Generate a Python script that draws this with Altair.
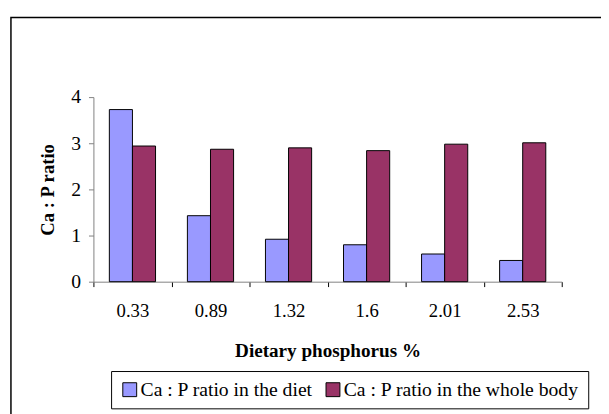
import altair as alt
import pandas as pd

categories = ["0.33", "0.89", "1.32", "1.6", "2.01", "2.53"]
diet = [3.73, 1.43, 0.92, 0.80, 0.60, 0.46]
whole_body = [2.94, 2.87, 2.90, 2.84, 2.98, 3.01]
series_names = ["Ca : P ratio in the diet", "Ca : P ratio in the whole body"]
colors = ["#9999FF", "#993366"]

rows = []
for c, d, w in zip(categories, diet, whole_body):
    rows.append({"dose": c, "series": series_names[0], "value": d})
    rows.append({"dose": c, "series": series_names[1], "value": w})
df = pd.DataFrame(rows)

FONT = "Liberation Serif"
FS = 19

bars = alt.Chart(df).mark_bar(stroke="black", strokeWidth=1).encode(
    x=alt.X("dose:N", sort=categories,
            scale=alt.Scale(paddingInner=0, paddingOuter=0),
            axis=alt.Axis(title="Dietary phosphorus %", labelAngle=0, tickBand="extent",
                          domainColor="#808080", tickColor="black", tickSize=5,
                          labelPadding=15, titlePadding=22, titleFontSize=19.5)),
    xOffset=alt.XOffset("series:N", sort=series_names,
                        scale=alt.Scale(paddingInner=0, paddingOuter=0.69)),
    y=alt.Y("value:Q", scale=alt.Scale(domain=[0, 4], nice=False),
            axis=alt.Axis(title="Ca : P ratio", values=[0, 1, 2, 3, 4], grid=False,
                          domainColor="#808080", tickColor="#808080", tickSize=5,
                          labelPadding=8, labelFontSize=20, titlePadding=14)),
    color=alt.Color("series:N", sort=series_names,
                    scale=alt.Scale(domain=series_names, range=colors),
                    legend=alt.Legend(title=None, orient="none", legendX=18, legendY=279,
                                      direction="horizontal", strokeColor="black",
                                      fillColor="white", padding=9, symbolType="square",
                                      symbolSize=200, symbolStrokeColor="black",
                                      symbolStrokeWidth=1, symbolOpacity=1,
                                      labelFontSize=20, labelColor="black",
                                      labelLimit=400, columnPadding=10, labelOffset=1)),
)

frame = alt.Chart(alt.Data(values=[{"a": 1}])).mark_rect(
    fill=None, stroke="black", strokeWidth=1.5, clip=False
).encode(
    x=alt.value(-84), y=alt.value(-81), x2=alt.value(600), y2=alt.value(400)
)

chart = alt.layer(frame, bars).properties(
    width=477, height=188,
    autosize=alt.AutoSizeParams(type="none"),
    padding={"left": 87, "top": 87, "right": 40, "bottom": 131},
).configure_view(stroke=None).configure_axis(
    labelFont=FONT, labelFontSize=FS, labelColor="black",
    titleFont=FONT, titleFontSize=FS, titleFontWeight="bold", titleColor="black",
).configure_legend(labelFont=FONT)

chart.save("out.html", embed_options={"renderer": "svg", "actions": False})
